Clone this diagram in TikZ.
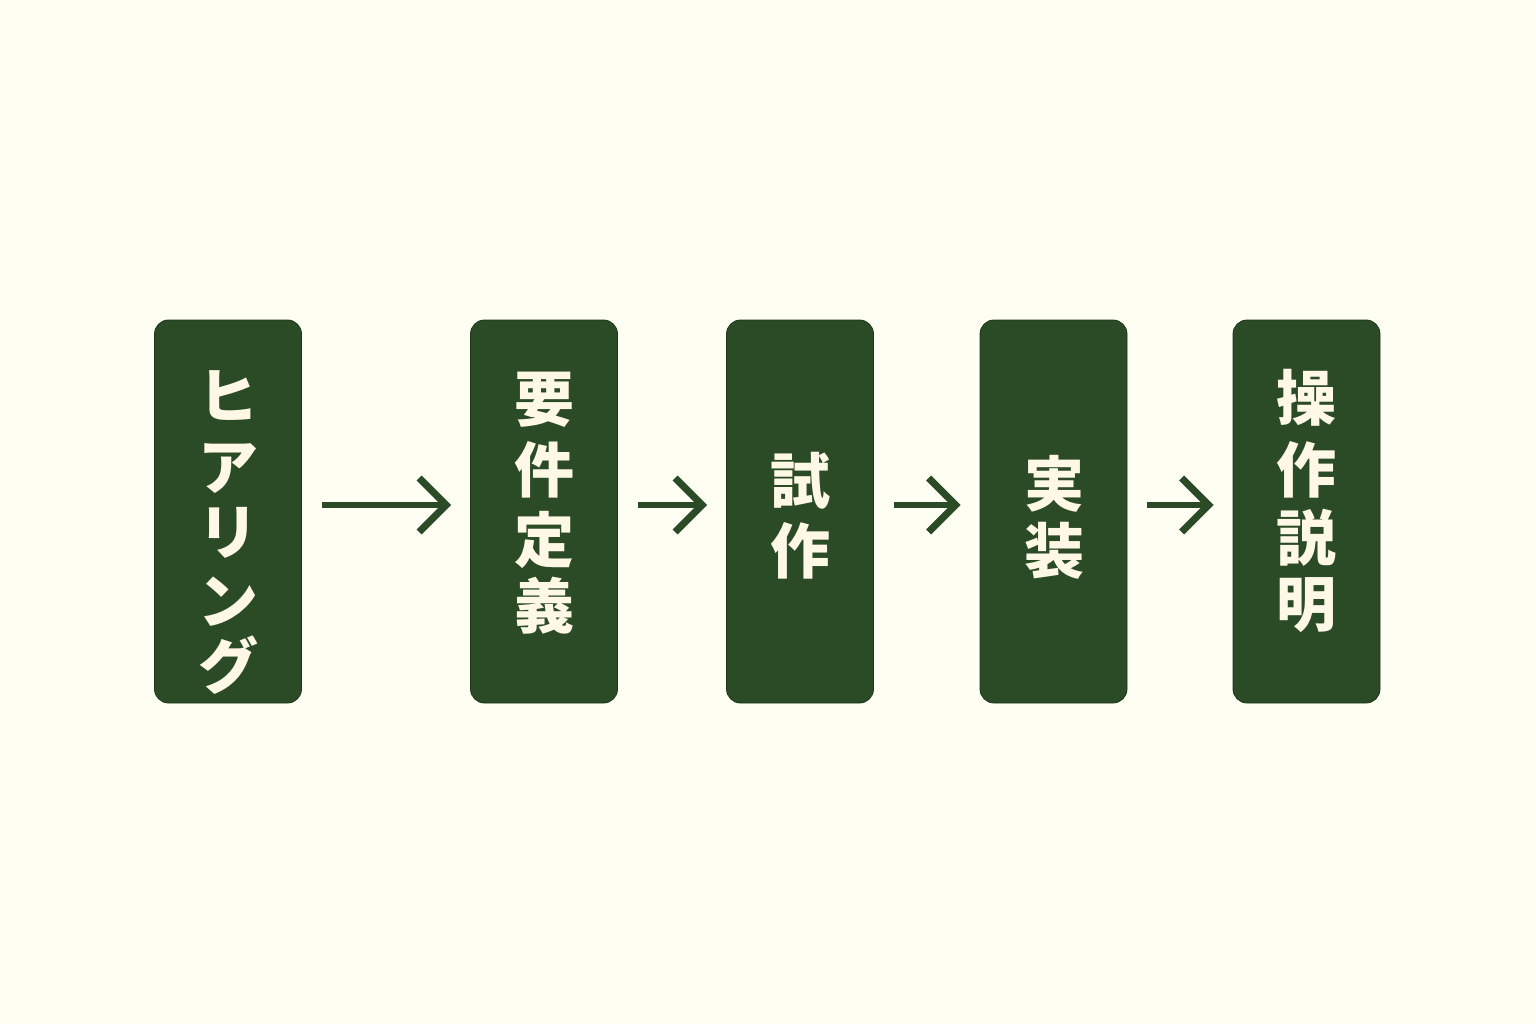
\documentclass[tikz,border=0pt]{standalone}
\usepackage{fontspec}
\newfontfamily\jp{Noto Sans CJK JP}
\usetikzlibrary{calc}
\definecolor{bg}{HTML}{FEFEF3}
\definecolor{boxg}{HTML}{2A4B25}
\definecolor{txt}{HTML}{FFF8E6}
\begin{document}
\begin{tikzpicture}[x=1pt,y=-1pt,
  stepbox/.style={draw=boxg!70!black, line width=0.8pt, fill=boxg, rounded corners=14pt,
    minimum width=147pt, minimum height=383pt, inner sep=0pt},
  chr/.style={text=txt, font=\jp\bfseries\fontsize{60}{60}\selectfont, inner sep=0pt},
  arr/.style={draw=boxg, line width=6.5pt},
  head/.style={draw=boxg, line width=7pt, line join=miter}]
\fill[bg] (0,0) rectangle (1536,1024);
\useasboundingbox (0,0) rectangle (1536,1024);
\node[stepbox] (b1) at (228,511.5) {};
\node[stepbox] (b2) at (544,511.5) {};
\node[stepbox] (b3) at (800,511.5) {};
\node[stepbox] (b4) at (1053.5,511.5) {};
\node[stepbox] (b5) at (1306.5,511.5) {};
\foreach \c/\y [count=\i] in {ヒ/396,ア/468,リ/533,ン/602,グ/665}
  \node[chr] (t1-\i) at (228,\y) {\c};
\foreach \c/\y [count=\i] in {要/400,件/470,定/540,義/606}
  \node[chr] (t2-\i) at (544,\y) {\c};
\foreach \c/\y [count=\i] in {試/481,作/551}
  \node[chr] (t3-\i) at (800,\y) {\c};
\foreach \c/\y [count=\i] in {実/484,装/551}
  \node[chr] (t4-\i) at (1054,\y) {\c};
\foreach \c/\y [count=\i] in {操/398,作/470,説/538,明/605}
  \node[chr] (t5-\i) at (1306,\y) {\c};
\foreach \a/\b [count=\i] in {b1/b2,b2/b3,b3/b4,b4/b5}{
  \coordinate (s\i) at ($(\a.east)+(20,-6.5)$);
  \coordinate (e\i) at ($(\b.west)+(-24,-6.5)$);
  \draw[arr] (s\i) -- ($(e\i)+(-4,0)$);
  \draw[head] ($(e\i)+(-27,-27)$) -- (e\i) -- ($(e\i)+(-27,27)$);
}
\end{tikzpicture}
\end{document}
